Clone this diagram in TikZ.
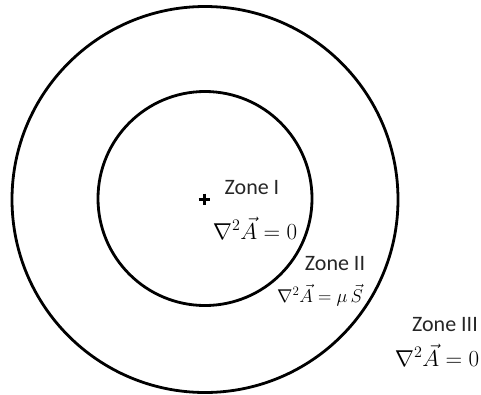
\RequirePackage{fix-cm}
\documentclass[tikz,border=0pt]{standalone}
\usepackage{amsmath}
\usepackage{fontspec}
\setmainfont{Carlito}
\usepackage{tikz}
\usetikzlibrary{calc,positioning}

\begin{document}
\begin{tikzpicture}[x=1pt,y=-1pt,
    ring/.style={line width=2.8pt,black},
    zonename/.style={font=\fontsize{22}{26}\selectfont,text=black!85,inner sep=0pt},
    zoneeq/.style={font=\fontsize{23}{27}\selectfont,inner sep=0pt},
    zoneeqsmall/.style={font=\fontsize{18.5}{22}\selectfont,inner sep=0pt}]
  \useasboundingbox (0,0) rectangle (481,394);
  % the two boundaries
  \draw[ring] (205,199.5) circle (193);
  \draw[ring] (205,198.5) circle (107);
  % centre mark
  \coordinate (centre) at (204,199);
  \draw[line width=3pt] ($(centre)+(-5.5,0)$)--($(centre)+(5.5,0)$);
  \draw[line width=3pt] ($(centre)+(0,-5.5)$)--($(centre)+(0,5.5)$);
  % zone labels
  \node[zonename] (zoneI) at (252,188) {Zone I};
  \node[zoneeq] (eqI) at (255,228) {$\nabla^2\vec{A}=0$};
  \node[zonename] (zoneII) at (335,264) {Zone II};
  \node[zoneeqsmall] (eqII) at (320,295) {$\nabla^2\vec{A}=\mu\,\vec{S}$};
  \node[zonename] (zoneIII) at (445,325) {Zone III};
  \node[zoneeq] (eqIII) at (437,355) {$\nabla^2\vec{A}=0$};
\end{tikzpicture}
\end{document}
